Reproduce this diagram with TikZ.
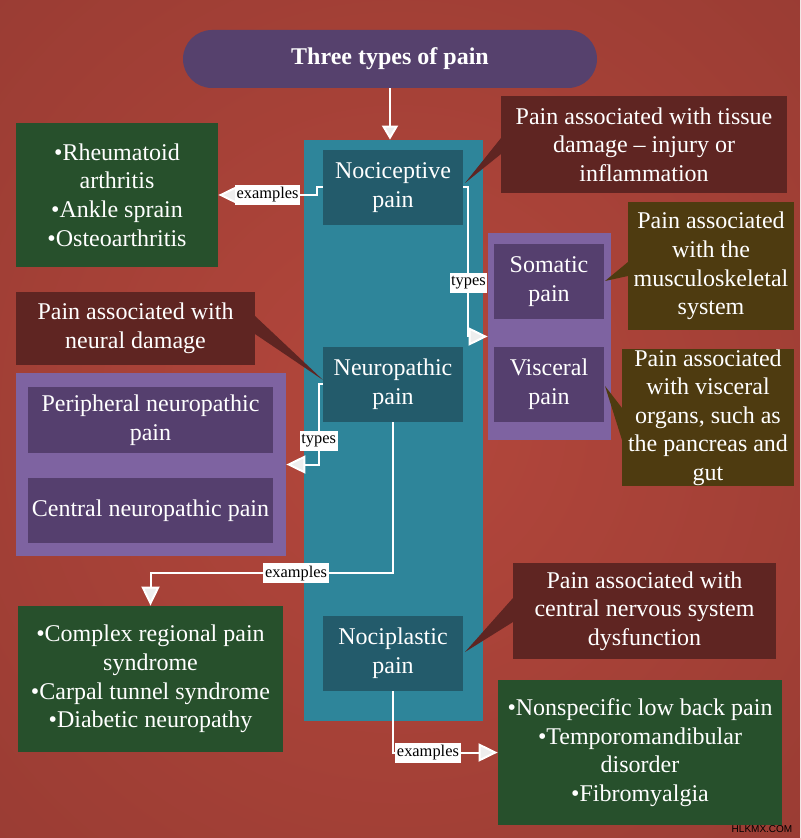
\documentclass[tikz,border=0pt]{standalone}
\usepackage{fontspec}
\setmainfont{Liberation Serif}
\newfontfamily\marksans{Liberation Sans}
\usetikzlibrary{arrows.meta}

\definecolor{bgin}{HTML}{B4473C}
\definecolor{bgout}{HTML}{903830}
\definecolor{titlepurple}{HTML}{56416D}
\definecolor{colteal}{HTML}{2E859A}
\definecolor{boxteal}{HTML}{235B6B}
\definecolor{grplilac}{HTML}{7E63A1}
\definecolor{boxplum}{HTML}{553F6E}
\definecolor{notemaroon}{HTML}{5F2522}
\definecolor{noteolive}{HTML}{4E3B10}
\definecolor{leaf}{HTML}{27502C}
\definecolor{tipgray}{HTML}{EEEEEE}
\pgfdeclareradialshading{bgglow}{\pgfpoint{0bp}{0bp}}{color(0bp)=(bgin); color(50bp)=(bgout)}

\begin{document}
\begin{tikzpicture}[x=0.5pt,y=-0.5pt,
  every node/.style={inner sep=0pt,align=center,text=white,font=\fontsize{12}{14.3}\selectfont},
  conn/.style={draw=white,line width=1pt,-{Triangle[length=9.5pt,width=9pt,fill=tipgray]}},
  lbl/.style={fill=white,text=black,font=\fontsize{8.2}{9}\selectfont,inner xsep=0.8pt,minimum height=10pt}]
  \useasboundingbox (0,0) rectangle (800,838);
  \shade[shading=bgglow] (0,0) rectangle (800,838);

  % title and middle column
  \node[fill=titlepurple,rounded corners=14.5pt,minimum width=207pt,minimum height=29pt,
    font=\bfseries\fontsize{12}{14.3}\selectfont] (title) at (390,59) {Three types of pain};
  \node[fill=colteal,minimum width=89.5pt,minimum height=290.5pt] (column) at (393.5,430.5) {};
  \node[fill=boxteal,minimum width=70pt,minimum height=37.5pt] (noci) at (393,187.5) {Nociceptive\\pain};
  \node[fill=boxteal,minimum width=70pt,minimum height=37.5pt] (neuro) at (393,384.5) {Neuropathic\\pain};
  \node[fill=boxteal,minimum width=70pt,minimum height=37.5pt] (nocipl) at (393,653.5) {Nociplastic\\pain};

  % types groups
  \node[fill=grplilac,minimum width=61.5pt,minimum height=103.5pt] (somvis) at (549.5,336.5) {};
  \node[fill=boxplum,minimum width=55pt,minimum height=37.5pt] (somatic) at (549,281.5) {Somatic\\pain};
  \node[fill=boxplum,minimum width=55pt,minimum height=37.5pt] (visceral) at (549,384.5) {Visceral\\pain};
  \node[fill=grplilac,minimum width=135pt,minimum height=91.5pt] (periph) at (151,464.5) {};
  \node[fill=boxplum,minimum width=122.5pt,minimum height=33pt] (peripheral) at (150.5,420) {Peripheral neuropathic\\pain};
  \node[fill=boxplum,minimum width=122.5pt,minimum height=32.5pt] (central) at (150.5,510.5) {Central neuropathic pain};

  % notes and their tails
  \fill[notemaroon] (465,183) -- (501,138) -- (501,154) -- cycle;
  \fill[noteolive] (605,281) -- (628,262) -- (628,276) -- cycle;
  \fill[noteolive] (605,386) -- (622,408) -- (622,440) -- cycle;
  \fill[notemaroon] (323,380) -- (255,316) -- (255,334) -- cycle;
  \fill[notemaroon] (465,652) -- (513,598) -- (513,622) -- cycle;
  \node[fill=notemaroon,minimum width=143pt,minimum height=48.5pt] (tissue) at (644,144.5)
    {Pain associated with tissue\\damage -- injury or\\inflammation};
  \node[fill=noteolive,minimum width=83pt,minimum height=64pt] (musc) at (711,266)
    {Pain associated\\with the\\musculoskeletal\\system};
  \node[fill=noteolive,minimum width=86pt,minimum height=68.5pt] (organs) at (708,417.5)
    {Pain associated\\with visceral\\organs, such as\\the pancreas and\\gut};
  \node[fill=notemaroon,minimum width=119.5pt,minimum height=36.5pt] (neural) at (135.5,328.5)
    {Pain associated with\\neural damage};
  \node[fill=notemaroon,minimum width=131.5pt,minimum height=48pt] (cns) at (644.5,611)
    {Pain associated with\\central nervous system\\dysfunction};

  % examples
  \node[fill=leaf,minimum width=101pt,minimum height=72pt] (rheum) at (117,195)
    {•Rheumatoid\\arthritis\\•Ankle sprain\\•Osteoarthritis};
  \node[fill=leaf,minimum width=132.5pt,minimum height=73pt] (complex) at (150.5,679)
    {•Complex regional pain\\syndrome\\•Carpal tunnel syndrome\\•Diabetic neuropathy};
  \node[fill=leaf,minimum width=142pt,minimum height=72.5pt] (lowback) at (640,752.5)
    {•Nonspecific low back pain\\•Temporomandibular\\disorder\\•Fibromyalgia};

  % connectors
  \draw[conn,-{Triangle[length=7pt,width=8pt,fill=tipgray]}] (title.south) -- (title.south |- column.north);
  \draw[conn] (noci.west) -- ++(-6,0) |- (rheum.east) node[lbl,pos=0.75] {examples};
  \draw[conn] (noci.east) -- ++(5,0) |- (somvis.west) node[lbl,pos=0.32] {types};
  \draw[conn] (neuro.west) -- ++(-4,0) |- (periph.east) node[lbl,pos=0.35] {types};
  \draw[conn] (neuro.south) -- ++(0,151) -| (complex.north) node[lbl,pos=0.2] {examples};
  \draw[conn] (nocipl.south) |- (lowback.west) node[lbl,pos=0.667] {examples};

  \node[font=\marksans\fontsize{5}{6}\selectfont,text=black] (mark) at (762,829) {HLKMX.COM};
\end{tikzpicture}
\end{document}
